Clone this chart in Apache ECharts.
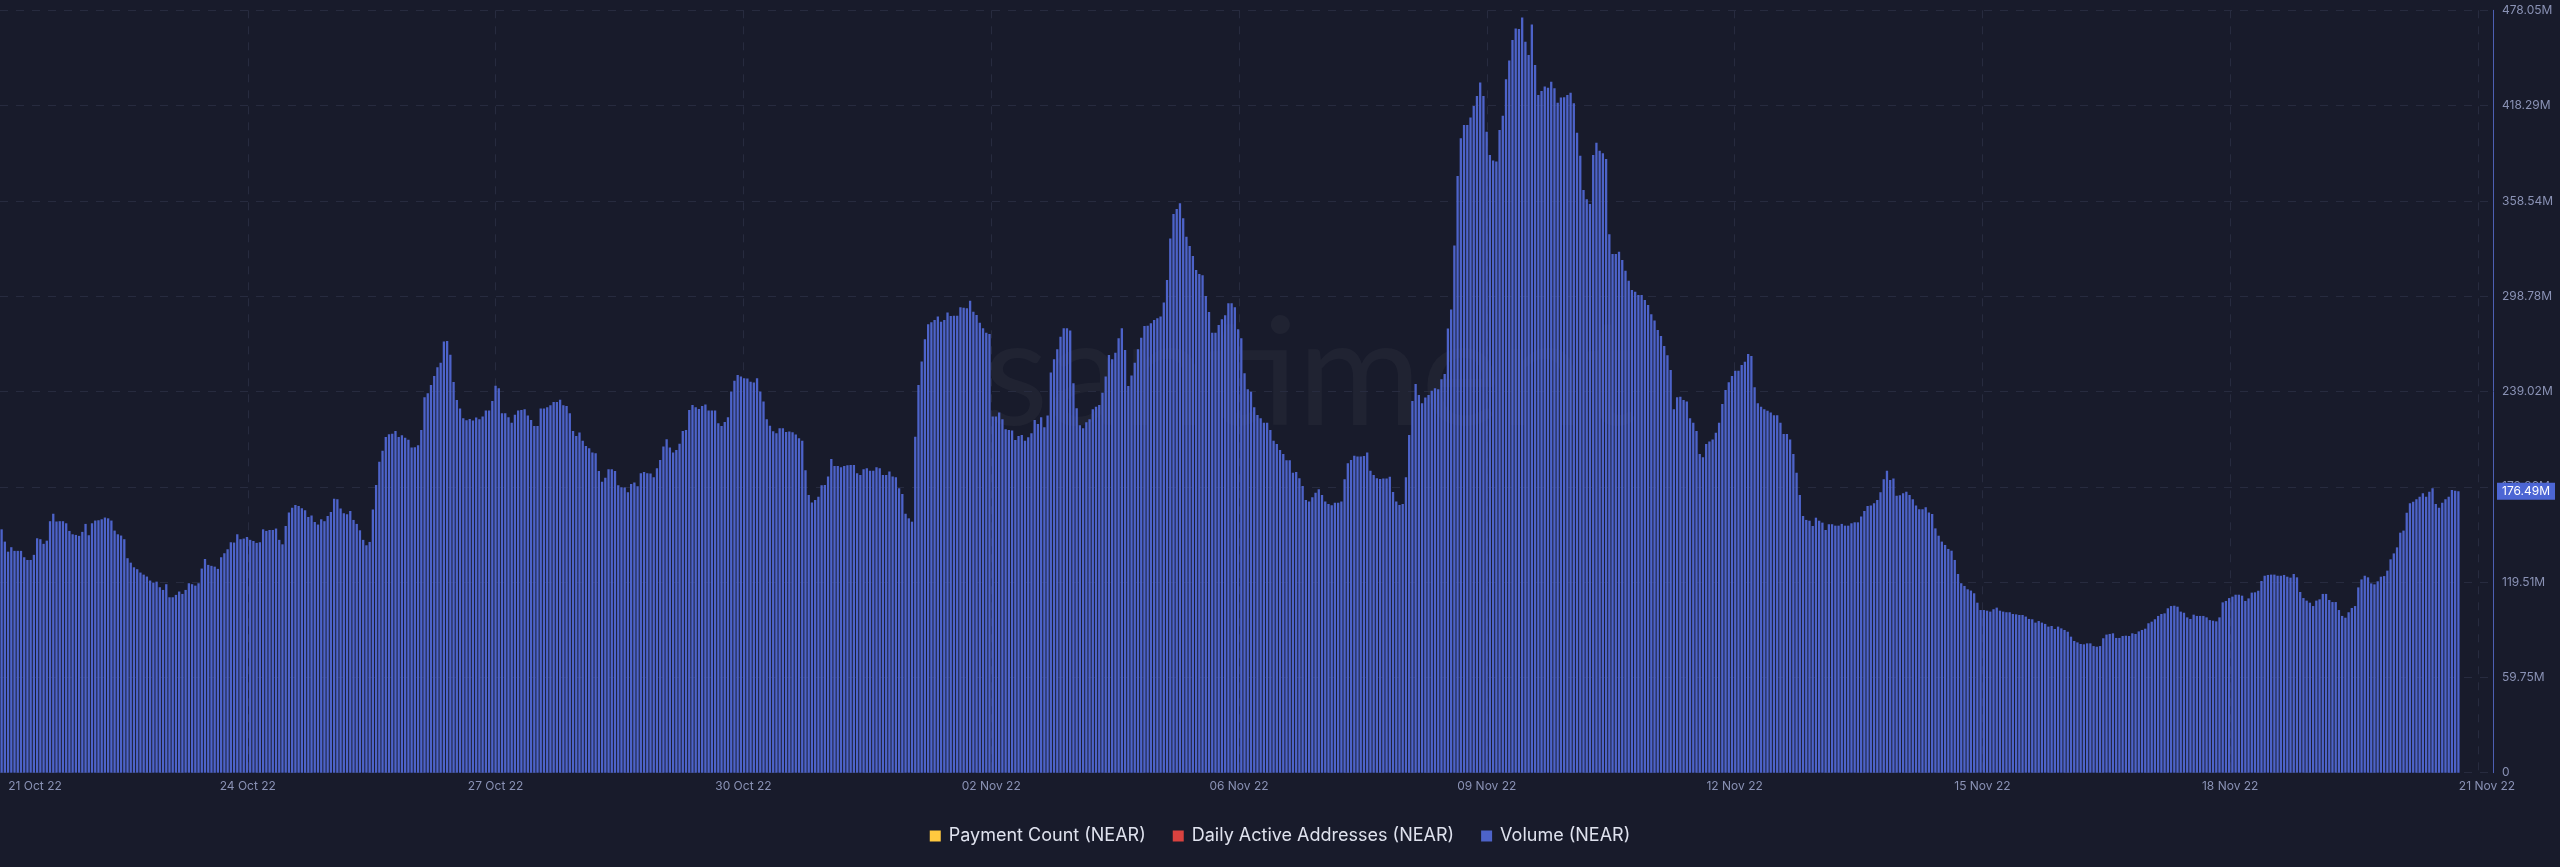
<!DOCTYPE html>
<html>
<head>
<meta charset="utf-8">
<script src="https://cdn.jsdelivr.net/npm/echarts@6/dist/echarts.min.js"></script>
<style>
html,body{margin:0;padding:0;background:#181b2b;}
#chart{width:2560px;height:867px;}
</style>
</head>
<body>
<div id="chart"></div>
<script>
// ---- data (values in millions) ----
const xTickLabels = ['21 Oct 22','24 Oct 22','27 Oct 22','30 Oct 22','02 Nov 22','06 Nov 22','09 Nov 22','12 Nov 22','15 Nov 22','18 Nov 22','21 Nov 22'];
const yTickLabels = ['0','59.75M','119.51M','179.26M','239.02M','298.78M','358.54M','418.29M','478.05M'];
const legendNames = ['Payment Count (NEAR)','Daily Active Addresses (NEAR)','Volume (NEAR)'];
const paymentCount = [];
const dailyActiveAddresses = [];
const volume = [
152.6,144.9,138.6,141.4,139.1,139.1,139.1,135.1,133.4,133.4,
136.6,147.0,146.4,143.5,145.5,157.7,162.3,157.5,157.7,157.7,
156.4,151.6,149.5,149.1,148.5,151.0,156.0,148.9,156.4,158.1,
158.3,158.9,160.0,159.5,158.1,151.8,149.5,148.7,146.4,134.5,
131.7,128.8,127.6,125.5,124.2,123.0,120.5,119.2,119.8,116.3,
114.6,118.2,110.0,110.0,111.5,113.6,112.1,114.6,118.8,118.2,
117.3,118.8,128.0,134.0,130.3,129.7,129.2,127.8,135.1,137.6,
140.1,144.5,144.3,149.5,146.4,146.8,147.8,146.0,145.3,144.1,
144.5,152.6,151.6,152.2,152.2,153.1,146.0,143.2,154.7,163.1,
166.2,167.9,167.3,165.8,164.6,160.4,161.2,157.2,155.6,158.9,
157.7,161.0,163.5,171.7,171.5,165.6,162.7,162.1,164.1,158.5,
156.0,152.0,146.0,142.6,144.7,165.0,180.4,194.9,201.8,210.5,
212.2,212.6,214.3,210.5,211.6,210.1,208.7,203.9,
204.1,205.3,214.9,235.4,237.9,243.1,248.8,254.2,257.1,270.3,
270.7,262.0,245.0,233.7,228.3,222.2,221.0,221.8,220.8,222.7,
221.6,223.3,227.1,227.1,233.1,242.7,241.1,225.4,225.4,222.9,
219.5,224.5,227.1,227.5,227.9,223.9,221.2,217.4,217.4,228.3,
228.3,229.1,230.4,232.5,232.5,233.9,230.4,230.0,225.4,214.3,
211.2,213.3,208.2,204.9,203.4,200.7,200.3,189.2,182.5,185.0,
190.3,190.3,189.2,180.2,179.0,178.8,175.8,181.1,181.9,179.6,
187.8,188.6,187.8,187.6,185.3,190.9,196.1,204.5,209.1,203.9,
200.7,202.4,206.2,214.3,214.9,227.5,230.6,229.1,228.1,230.0,
230.8,227.1,227.1,227.1,219.1,217.4,219.9,222.9,239.0,245.7,
249.4,248.4,247.3,247.1,245.2,244.6,247.3,239.0,232.7,221.6,
217.6,214.1,212.8,216.0,216.0,213.7,213.9,213.5,212.0,209.7,
208.2,189.6,174.2,169.4,171.0,173.1,180.2,
180.4,185.7,196.7,192.3,192.3,191.5,192.3,192.8,193.0,193.0,
187.7,186.7,190.3,190.9,189.4,189.4,191.5,190.9,186.7,186.7,
188.8,185.7,185.2,178.3,174.8,162.3,159.5,157.4,210.7,243.1,
257.8,271.8,281.2,282.4,283.9,286.0,282.8,283.9,288.5,286.4,
286.6,286.6,291.8,291.6,291.2,296.0,289.1,287.0,282.2,278.7,
275.9,275.1,223.3,223.3,225.8,221.6,215.3,214.9,214.5,208.6,
211.2,211.8,208.2,210.3,212.8,221.2,218.7,222.9,216.6,223.9,
250.9,259.2,265.5,273.4,278.7,278.7,277.2,244.2,228.5,217.8,
216.0,219.7,221.6,227.9,229.5,230.6,238.3,248.4,261.9,259.2,
263.4,272.4,278.7,265.1,242.5,249.0,257.1,265.5,272.8,280.1,
280.3,281.8,283.9,284.9,286.0,294.8,309.0,334.9,350.4,353.5,
357.0,347.6,336.1,330.3,324.0,315.2,312.7,311.9,298.9,288.9,
275.9,275.9,280.8,284.3,286.8,294.3,
294.3,291.8,278.0,272.4,250.4,240.4,238.9,229.1,224.3,222.2,
219.5,219.5,214.9,208.2,206.1,202.3,199.8,195.9,195.9,188.1,
188.5,184.6,179.8,171.0,170.0,172.7,175.6,177.7,174.1,170.0,
168.5,167.7,169.3,169.3,170.0,184.0,194.0,196.1,198.8,198.2,
198.2,198.6,200.7,189.4,186.7,184.6,184.2,184.4,184.4,185.6,
176.0,170.0,167.9,168.5,185.2,211.8,233.1,243.7,236.8,231.6,
235.2,236.8,239.5,241.0,240.4,246.7,250.0,278.6,290.5,330.5,
374.1,397.8,406.1,406.1,410.9,418.0,424.3,432.7,424.3,401.9,
387.3,383.8,383.3,403.0,412.0,434.8,446.5,459.4,466.7,466.3,
473.6,458.4,450.0,469.2,443.7,424.9,427.4,430.2,429.5,433.3,
429.1,420.1,423.3,423.5,424.9,426.4,419.7,401.3,386.9,365.4,
359.5,356.6,387.3,395.0,390.0,388.4,384.8,337.6,325.2,325.2,
326.7,321.5,314.8,308.5,302.7,301.6,299.5,
299.5,296.4,293.3,287.4,283.5,277.6,273.8,267.6,261.7,252.5,
227.9,235.4,235.8,233.7,232.7,222.2,219.5,214.3,199.9,197.8,
206.1,207.6,209.0,213.2,219.5,231.2,240.0,244.8,248.8,252.1,
252.1,255.7,257.7,262.6,261.3,241.7,231.6,229.5,227.9,227.0,
225.8,224.1,224.1,219.5,212.4,212.4,209.0,199.9,188.1,174.1,
161.0,158.5,158.0,154.7,159.9,158.0,156.8,152.2,155.8,155.8,
154.9,154.9,156.0,154.9,154.9,156.4,157.0,157.0,160.6,164.1,
167.2,167.5,168.9,171.0,175.8,184.0,189.4,183.5,184.4,173.7,
173.9,175.2,176.2,174.1,171.4,167.5,165.2,165.2,166.4,163.1,
162.2,153.2,148.6,144.9,142.8,140.3,139.2,133.4,124.6,118.8,
117.1,115.0,114.2,112.5,106.6,102.0,102.0,101.6,101.0,102.5,
103.5,101.6,101.0,100.6,100.6,99.5,99.3,98.9,98.9,97.9,
96.4,96.2,94.1,95.1,94.1,93.3,
91.6,92.0,90.1,91.6,90.5,89.5,88.4,85.3,82.6,81.7,
80.7,80.5,81.1,81.1,79.4,79.0,79.4,84.3,86.6,87.0,
87.4,84.5,84.5,85.7,85.9,85.7,87.4,87.0,88.6,89.5,
90.3,93.7,94.7,96.2,98.3,99.5,99.9,103.1,104.5,104.7,
104.1,101.0,100.3,97.4,96.4,99.1,98.3,98.3,98.3,97.4,
95.7,95.3,94.9,97.4,106.8,107.7,109.5,110.4,111.6,111.6,
111.0,107.7,109.3,112.9,113.1,114.1,120.2,123.5,124.0,124.2,
124.2,123.5,123.5,124.0,122.9,122.3,124.6,122.5,113.3,109.5,
107.9,106.6,104.5,107.9,108.7,112.1,112.1,108.3,107.0,107.0,
102.0,98.3,97.2,100.6,103.3,104.5,116.2,121.2,123.5,122.5,
118.7,118.1,120.0,122.9,123.3,126.7,133.8,137.5,141.3,150.5,
151.8,163.0,168.9,169.9,171.4,173.1,175.2,173.1,176.2,178.3,
168.5,166.2,169.3,171.4,173.1,177.3,176.8,176.49
];

// ---- layout ----
const W = 2560, H = 867;
const gridTop = 10.3, gridBottomY = 772.7, axisX = 2493, barsRight = 2460;
const N = volume.length;
const pxPerBar = barsRight / N;
const xMax = axisX / pxPerBar;
const xInterval = 247.8 / pxPerBar;
const yMax = 478.05;
const yInterval = yMax / 8;
const labelColor = '#8a92b5';
const gridColor = '#272b3f';
const FONT = 'Inter, "Noto Sans", sans-serif';

const chart = echarts.init(document.getElementById('chart'), null, {renderer:'canvas', width:W, height:H});
const last = volume[N - 1];

chart.setOption({
  backgroundColor: '#181b2b',
  animation: false,
  textStyle: {fontFamily: FONT},
  grid: {left: 0, right: W - axisX, top: gridTop, bottom: H - gridBottomY, containLabel: false},
  graphic: [{
    type: 'text', x: 1310, y: 377, z: 0, silent: true,
    style: {text: 'santiment', font: '150px Lato', fill: 'rgba(255,255,255,0.035)',
      align: 'center', verticalAlign: 'middle', textAlign: 'center', textVerticalAlign: 'middle'}
  }],
  legend: {
    data: legendNames.map(n => ({name: n})),
    left: 'center', top: 822,
    icon: 'rect', itemWidth: 11, itemHeight: 11, itemGap: 27,
    textStyle: {color: '#dfe2ee', fontSize: 18, fontFamily: FONT, padding: [0, 0, 0, 3]}
  },
  xAxis: {
    type: 'value', min: 0, max: xMax, interval: xInterval,
    axisLine: {show: false, onZero: false}, axisTick: {show: false},
    splitLine: {show: true, showMinLine: false, showMaxLine: false,
      lineStyle: {color: gridColor, type: [8, 8], width: 1}},
    axisLabel: {
      color: labelColor, fontSize: 12, margin: 8, showMinLabel: true, showMaxLabel: true,
      formatter: function (v) {
        const k = v / xInterval, idx = Math.round(k);
        if (Math.abs(k - idx) > 0.01 || idx < 0 || idx >= xTickLabels.length) return '';
        if (idx === 0) return '{first|' + xTickLabels[idx] + '}';
        if (idx === xTickLabels.length - 1) return '{lastL|' + xTickLabels[idx] + '}';
        return xTickLabels[idx];
      },
      rich: {
        first: {padding: [0, 0, 0, 70], color: labelColor, fontSize: 12, fontFamily: FONT},
        lastL: {padding: [0, 0, 0, 18], color: labelColor, fontSize: 12, fontFamily: FONT}
      }
    }
  },
  yAxis: {
    type: 'value', position: 'right', min: 0, max: yMax, interval: yInterval,
    axisLine: {show: true, onZero: false, lineStyle: {color: '#4d5fb3', width: 1}},
    axisTick: {show: false},
    splitLine: {show: true, lineStyle: {color: gridColor, type: [8, 8], width: 1}},
    axisLabel: {
      color: labelColor, fontSize: 12, margin: 9,
      formatter: function (v) {
        const idx = Math.round(v / yInterval);
        return yTickLabels[idx] !== undefined ? yTickLabels[idx] : '';
      }
    }
  },
  series: [
    {name: legendNames[0], type: 'line', data: paymentCount, color: '#ffc93f', showSymbol: false},
    {name: legendNames[1], type: 'line', data: dailyActiveAddresses, color: '#d9423f', showSymbol: false},
    {
      name: legendNames[2], type: 'bar', color: '#4d63c9',
      barWidth: 2.3,
      data: volume.map((v, i) => [i + 0.5, v]),
      itemStyle: {color: '#4d63c9'},
      markLine: {
        silent: true, symbol: ['none', 'none'],
        lineStyle: {color: 'rgba(0,0,0,0)', width: 0},
        label: {
          show: true, position: 'end', distance: 4,
          formatter: function () { return last.toFixed(2) + 'M'; },
          color: '#ffffff', backgroundColor: '#4c66d4', padding: [3, 5, 2, 5],
          fontSize: 12, fontFamily: FONT
        },
        data: [{yAxis: last}]
      }
    }
  ]
});
</script>
</body>
</html>
